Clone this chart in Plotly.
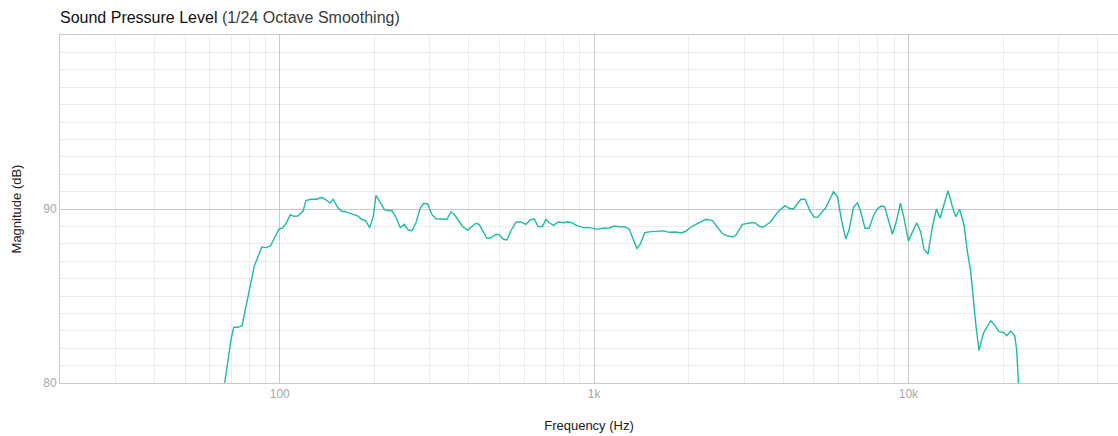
import plotly.graph_objects as go

# frequency response (Hz, dB)
freq = [66.0, 70.0, 71.4, 73.5, 75.9, 79.1, 83.0, 87.7, 90.5, 93.4,
        99.3, 102.2, 104.7, 108.1, 110.8, 114.1, 118.6, 121.2, 125.7, 131.4,
        136.0, 140.3, 144.5, 147.7, 152.9, 157.4, 162.5, 168.5, 177.0, 182.3,
        187.1, 193.3, 198.4, 202.4, 208.9, 215.1, 217.8, 227.6, 234.3, 241.8,
        249.0, 256.4, 263.5, 271.3, 280.0, 287.1, 295.6, 304.4, 314.1, 325.8,
        340.4, 350.5, 360.9, 381.9, 396.1, 407.9, 420.9, 431.2, 456.1, 469.8,
        487.3, 499.2, 514.0, 528.1, 543.9, 564.2, 582.1, 606.9, 626.4, 645.0,
        664.2, 685.8, 702.6, 719.8, 743.4, 768.8, 799.8, 823.6, 848.2, 881.7,
        926.0, 964.7, 1025.9, 1064.1, 1116.9, 1158.5, 1201.7, 1252.7, 1293.0, 1335.3,
        1368.0, 1401.4, 1450.3, 1515.5, 1591.6, 1670.5, 1732.8, 1819.9, 1897.3, 1958.2,
        2056.6, 2158.8, 2267.3, 2381.3, 2470.2, 2549.4, 2625.1, 2757.2, 2824.6, 2966.6,
        3152.1, 3245.6, 3374.5, 3459.4, 3630.8, 3849.3, 4051.4, 4172.4, 4308.2, 4546.3,
        4691.1, 4866.0, 5010.3, 5137.4, 5457.6, 5774.3, 5945.7, 6123.5, 6318.4, 6473.0,
        6685.3, 6883.8, 7052.2, 7277.8, 7494.1, 7773.0, 8003.7, 8205.2, 8405.8, 8893.3,
        9178.3, 9431.0, 9682.5, 10000, 10627, 10942, 11210, 11543, 11921, 12274,
        12603, 13363, 13801, 14139, 14559, 15025, 15403, 15780, 16368, 16768,
        17319, 18268, 18811, 19415, 20051, 20541, 21151, 21777, 22101, 22424,
        22507]
spl = [79.31, 82.51, 83.20, 83.20, 83.29, 84.96, 86.72, 87.82, 87.78, 87.87,
       88.83, 88.91, 89.16, 89.67, 89.58, 89.60, 89.87, 90.48, 90.56, 90.56,
       90.67, 90.52, 90.34, 90.56, 90.10, 89.87, 89.83, 89.73, 89.60, 89.41,
       89.35, 88.93, 89.56, 90.79, 90.36, 89.98, 89.93, 89.90, 89.52, 88.93,
       89.12, 88.79, 88.75, 89.21, 90.07, 90.33, 90.29, 89.70, 89.44, 89.41,
       89.41, 89.84, 89.64, 88.98, 88.79, 88.98, 89.18, 89.12, 88.32, 88.35,
       88.55, 88.51, 88.26, 88.22, 88.75, 89.24, 89.27, 89.12, 89.37, 89.43,
       88.98, 89.01, 89.41, 89.21, 89.06, 89.25, 89.21, 89.27, 89.21, 89.04,
       88.93, 88.93, 88.83, 88.89, 88.91, 89.02, 88.97, 88.98, 88.85, 88.22,
       87.74, 87.97, 88.64, 88.70, 88.74, 88.74, 88.66, 88.68, 88.62, 88.72,
       89.02, 89.21, 89.41, 89.33, 88.98, 88.62, 88.48, 88.39, 88.49, 89.12,
       89.21, 89.21, 88.98, 88.98, 89.24, 89.84, 90.19, 90.04, 90.00, 90.56,
       90.56, 89.89, 89.54, 89.52, 90.07, 90.99, 90.71, 89.37, 88.28, 88.79,
       90.10, 90.36, 89.84, 88.89, 88.89, 89.70, 90.04, 90.17, 90.13, 88.55,
       89.37, 90.33, 89.48, 88.17, 89.21, 88.68, 87.68, 87.41, 88.98, 90.00,
       89.47, 91.05, 90.13, 89.56, 89.98, 89.08, 87.55, 86.40, 83.43, 81.86,
       82.86, 83.58, 83.33, 82.95, 82.91, 82.72, 82.99, 82.72, 81.90, 80.13,
       79.31]

x_major = [100, 1000, 10000]
x_major_text = ['100', '1k', '10k']
x_minor = [m * d for d in (10, 100, 1000, 10000) for m in range(2, 10)]
y_major = [80, 90, 100]
y_major_text = ['80', '90', '']

font = "Liberation Sans, Arial, Helvetica, sans-serif"
major_grid = '#c9c9c9'
minor_grid = '#ebebeb'

fig = go.Figure()
fig.add_trace(go.Scatter(
    x=freq,
    y=spl,
    mode='lines',
    line=dict(color='#1dbca7', width=1.4),
    hovertemplate='%{x:.0f} Hz: %{y:.1f} dB<extra></extra>',
))
fig.update_layout(
    width=1118,
    height=436,
    margin=dict(l=60, r=0, t=35, b=53),
    template='plotly_white',
    plot_bgcolor='white',
    paper_bgcolor='white',
    showlegend=False,
    font=dict(family=font, color='#222'),
    title=dict(
        text="<span style='color:#111'>Sound Pressure Level</span> "
             "<span style='color:#3a3a3a'>(1/24 Octave Smoothing)</span>",
        x=0, xref='paper', xanchor='left',
        y=0.961, yanchor='middle',
        font=dict(size=16, family=font),
    ),
    xaxis=dict(
        type='log',
        range=[1.30103, 4.6667],
        tickmode='array',
        tickvals=x_major,
        ticktext=x_major_text,
        tickfont=dict(size=12, color='#a8a8a8'),
        showgrid=True,
        gridcolor=major_grid,
        gridwidth=1,
        showline=True,
        linecolor=major_grid,
        mirror=True,
        zeroline=False,
        ticks='',
        minor=dict(tickmode='array', tickvals=x_minor, showgrid=True,
                   gridcolor=minor_grid, gridwidth=1, ticks=''),
        title=dict(text='Frequency (Hz)', font=dict(size=13, color='#222'), standoff=20),
    ),
    yaxis=dict(
        range=[80, 100],
        tickmode='array',
        tickvals=y_major,
        ticktext=y_major_text,
        tickfont=dict(size=12, color='#a8a8a8'),
        showgrid=True,
        gridcolor=major_grid,
        gridwidth=1,
        showline=True,
        linecolor=major_grid,
        zeroline=False,
        ticks='',
        minor=dict(dtick=1, showgrid=True, gridcolor=minor_grid, gridwidth=1, ticks=''),
        title=dict(text='Magnitude (dB)', font=dict(size=13, color='#222'), standoff=18),
    ),
)
# drop the browser's default 8px body margin so the figure sits at the page origin
fig.write_html("out.html",
               config={'displayModeBar': False},
               post_script="document.body.style.margin='0';document.body.style.overflow='hidden';")
